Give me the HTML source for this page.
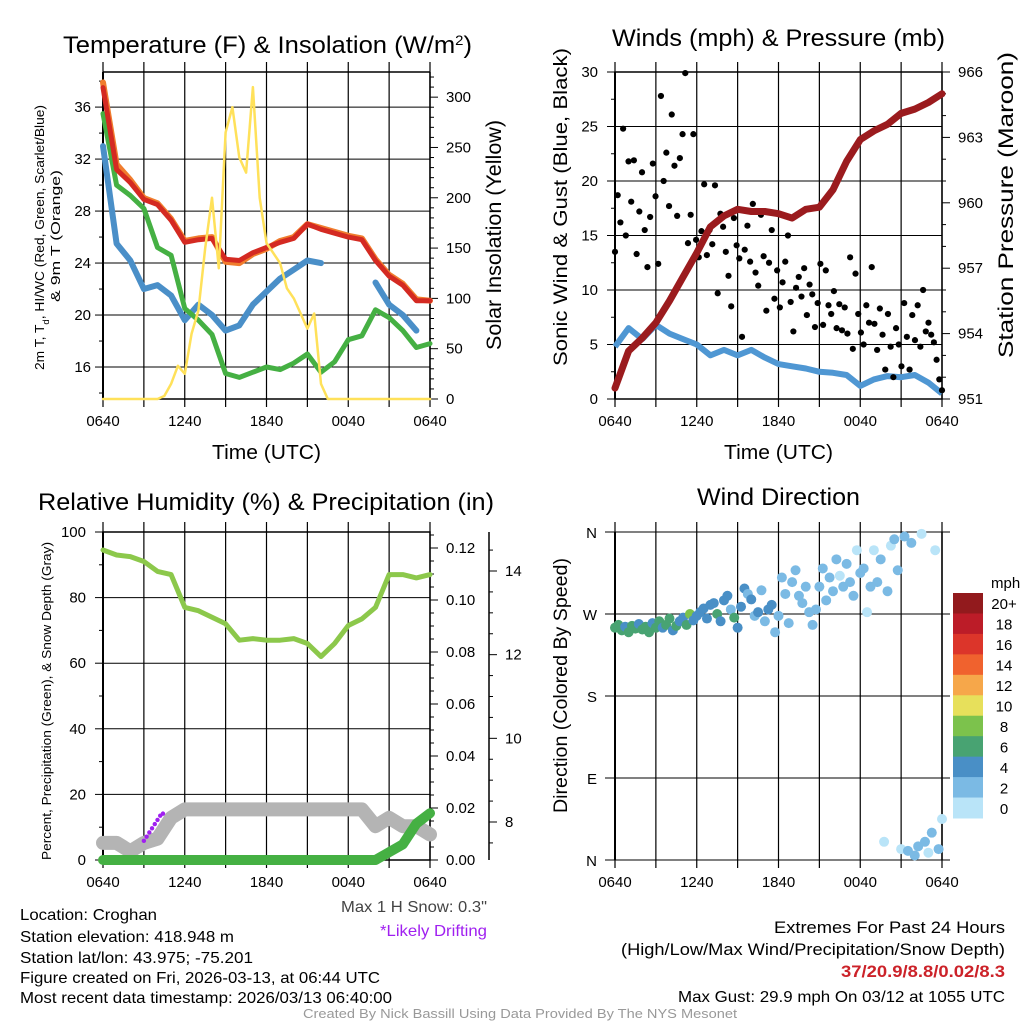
<!DOCTYPE html>
<html><head><meta charset="utf-8">
<style>
html,body{margin:0;padding:0;background:#fff;}
svg{display:block;}
text{font-family:"Liberation Sans Narrow","Liberation Sans",sans-serif;fill:#000;}
</style></head>
<body>
<svg id="fig" xmlns="http://www.w3.org/2000/svg" width="1024" height="1024" viewBox="0 0 1024 1024">
<rect width="1024" height="1024" fill="#fff"/>
<g id="static">
<text x="63" y="53" font-size="24" textLength="409" lengthAdjust="spacingAndGlyphs">Temperature (F) &amp; Insolation (W/m<tspan baseline-shift="super" font-size="14">2</tspan>)</text>
<text x="612" y="46" font-size="24" textLength="333" lengthAdjust="spacingAndGlyphs">Winds (mph) &amp; Pressure (mb)</text>
<text x="38" y="510" font-size="24" textLength="456" lengthAdjust="spacingAndGlyphs">Relative Humidity (%) &amp; Precipitation (in)</text>
<text x="697" y="505" font-size="24" textLength="163" lengthAdjust="spacingAndGlyphs">Wind Direction</text>
<text x="212" y="459" font-size="20" textLength="109" lengthAdjust="spacingAndGlyphs">Time (UTC)</text>
<text x="724" y="459" font-size="20" textLength="109" lengthAdjust="spacingAndGlyphs">Time (UTC)</text>
<text transform="translate(44,370) rotate(-90)" font-size="13" textLength="265" lengthAdjust="spacingAndGlyphs">2m T, T<tspan baseline-shift="sub" font-size="9">d</tspan>, HI/WC (Red, Green, Scarlet/Blue)</text>
<text transform="translate(60,302) rotate(-90)" font-size="13" textLength="132" lengthAdjust="spacingAndGlyphs">&amp; 9m T (Orange)</text>
<text transform="translate(501,350) rotate(-90)" font-size="21" textLength="230" lengthAdjust="spacingAndGlyphs">Solar Insolation (Yellow)</text>
<text transform="translate(567,366) rotate(-90)" font-size="19" textLength="318" lengthAdjust="spacingAndGlyphs">Sonic Wind &amp; Gust (Blue, Black)</text>
<text transform="translate(1013,358) rotate(-90)" font-size="21" textLength="306" lengthAdjust="spacingAndGlyphs">Station Pressure (Maroon)</text>
<text transform="translate(51,860) rotate(-90)" font-size="13" textLength="318" lengthAdjust="spacingAndGlyphs">Percent, Precipitation (Green), &amp; Snow Depth (Gray)</text>
<text transform="translate(567,813) rotate(-90)" font-size="19" textLength="255" lengthAdjust="spacingAndGlyphs">Direction (Colored By Speed)</text>
<text x="991" y="588" font-size="15">mph</text>

<text x="20" y="920" font-size="16" textLength="137" lengthAdjust="spacingAndGlyphs">Location: Croghan</text>
<text x="20" y="942" font-size="16" textLength="214" lengthAdjust="spacingAndGlyphs">Station elevation: 418.948 m</text>
<text x="20" y="963" font-size="16" textLength="233" lengthAdjust="spacingAndGlyphs">Station lat/lon: 43.975; -75.201</text>
<text x="20" y="983" font-size="16" textLength="360" lengthAdjust="spacingAndGlyphs">Figure created on Fri, 2026-03-13, at 06:44 UTC</text>
<text x="20" y="1003" font-size="16" textLength="372" lengthAdjust="spacingAndGlyphs">Most recent data timestamp: 2026/03/13 06:40:00</text>
<text x="341" y="912" font-size="16" style="fill:#444" textLength="146" lengthAdjust="spacingAndGlyphs">Max 1 H Snow: 0.3"</text>
<text x="380" y="936" font-size="16" style="fill:#a020f0" textLength="107" lengthAdjust="spacingAndGlyphs">*Likely Drifting</text>
<text x="774" y="933" font-size="17" textLength="231" lengthAdjust="spacingAndGlyphs">Extremes For Past 24 Hours</text>
<text x="621" y="955" font-size="17" textLength="384" lengthAdjust="spacingAndGlyphs">(High/Low/Max Wind/Precipitation/Snow Depth)</text>
<text x="841" y="977" font-size="17" font-weight="bold" style="fill:#cc2229" textLength="164" lengthAdjust="spacingAndGlyphs">37/20.9/8.8/0.02/8.3</text>
<text x="678" y="1002" font-size="16" textLength="327" lengthAdjust="spacingAndGlyphs">Max Gust: 29.9 mph On 03/12 at 1055 UTC</text>
<text x="303" y="1018" font-size="13" style="fill:#999" textLength="434" lengthAdjust="spacingAndGlyphs">Created By Nick Bassill Using Data Provided By The NYS Mesonet</text>
</g>
<g id="plots"></g>
</svg>
<script>
// ---------- data (hours since 0640 UTC) ----------
const timeLabels = ["0640","1240","1840","0040","0640"];
const tempRed    = [37.5,31.2,30.2,28.9,28.5,27.3,25.6,25.8,25.9,24.3,24.2,24.8,25.2,25.6,25.9,27.0,26.6,26.3,26.0,25.8,24.2,23.0,22.3,21.1,21.1];
const temp9m     = [37.9,31.6,30.4,29.0,28.6,27.4,25.7,25.9,26.0,24.1,24.0,24.7,25.1,25.7,26.0,27.0,26.7,26.4,26.1,25.9,24.3,23.1,22.4,21.2,21.1];
const dewGreen   = [35.5,30.0,29.2,28.2,25.2,24.6,20.5,19.6,18.5,15.5,15.2,15.6,16.0,15.8,16.3,17.0,15.6,16.4,18.1,18.4,20.4,19.8,18.8,17.5,17.8];
const windChill  = [33.0,25.5,24.2,22.0,22.3,21.5,19.6,20.8,20.0,18.8,19.2,20.8,21.8,22.8,23.5,24.2,24.0,null,null,null,22.5,20.8,20.0,18.8,null];
const solar      = [0,0,0,0,0,0,0,0,0,3,15,33,25,65,88,150,200,130,265,290,240,225,310,200,155,145,135,110,100,85,70,85,15,0,0,0,0,0,0,0,0,0,0,0,0,0,0,0,0];
const windSpeed  = [4.8,6.5,5.5,6.8,6.0,5.5,5.0,4.0,4.5,4.0,4.5,3.8,3.2,3.0,2.8,2.5,2.4,2.2,1.2,1.8,2.1,2.0,2.2,1.5,0.5];
const pressure   = [951.5,953.2,953.8,954.5,955.5,956.6,957.7,958.9,959.4,959.7,959.6,959.6,959.5,959.3,959.7,959.8,960.6,961.9,962.9,963.3,963.6,964.1,964.3,964.6,965.0];
const gusts = [13.5,18.7,16.2,24.8,15.0,21.8,18.1,21.9,13.3,17.2,20.8,
 15.5,12.1,16.7,21.6,18.6,12.4,27.8,20.0,22.6,17.7,
 26.1,21.4,16.8,22.1,24.3,29.9,14.3,16.9,24.3,14.6,
 13.0,15.4,19.7,13.2,15.5,14.2,19.6,9.7,17.0,15.8,
 13.5,11.3,8.5,16.6,14.1,12.9,5.7,13.7,15.9,12.6,
 17.9,11.6,10.4,16.9,13.1,8.1,12.5,15.5,9.2,11.8,
 8.4,10.7,12.6,15.0,8.9,6.2,10.2,11.2,9.4,12.0,
 7.7,10.5,9.6,6.6,8.8,12.4,6.8,11.8,8.6,7.8,
 9.9,6.5,8.7,6.3,8.4,6.0,13.0,4.6,11.5,7.8,
 6.1,5.0,8.6,7.0,12.1,6.9,4.5,8.3,5.9,2.7,
 7.8,4.8,2.0,6.5,5.0,3.0,8.8,5.7,2.7,7.7,
 5.4,8.6,4.8,10.0,6.2,7.0,5.9,5.2,3.6,1.8,0.8];
const relHum     = [94.5,93,92.5,91,88,87,77,76,74,72,67,67.5,67,67,67.5,66,62,66,71.5,73.5,77,87,87,86,87];
const snowDepth  = [7.5,7.5,7.3,7.5,7.6,8.1,8.3,8.3,8.3,8.3,8.3,8.3,8.3,8.3,8.3,8.3,8.3,8.3,8.3,8.3,7.9,8.1,7.9,7.9,7.7];
const driftTimes = [3.0,3.2,3.4,3.6,3.8,4.0,4.2,4.4];
const driftDepth = [7.55,7.65,7.75,7.85,7.95,8.05,8.15,8.2];
const precip     = [0,0,0,0,0,0,0,0,0,0,0,0,0,0,0,0,0,0,0,0,0,0.003,0.006,0.014,0.018];
const windDir = [255,258,252,256,250,257,254,259,253,256,250,260,255,
 262,255,258,265,252,257,262,266,258,270,263,268,
 272,276,265,280,282,270,262,285,290,275,266,255,
 278,298,292,286,268,272,296,262,275,280,250,268,
 310,292,260,305,318,290,282,300,272,258,275,300,
 320,285,310,295,330,312,300,325,305,290,340,315,
 320,272,300,340,305,330,20,295,345,352,318,12,
 355,10,348,5,15,358,20,8,30,340,12,45];
const dirSpeed = [6.5,7,6.2,5.8,6.8,7.2,6.1,5.5,6.6,7.4,6.3,5.1,6.8,
 6.2,5.4,7.1,6.5,4.6,6.8,5.9,4.5,6.1,8.2,5.6,4.8,
 4.8,5.2,4.3,4.6,4.1,6.2,4.5,4.9,4.2,3.8,6.4,4.4,
 4.5,4.2,3.6,4.4,3.9,4.7,3.5,3.3,4.6,4.2,3.1,3.8,
 3.4,2.8,3.2,3.6,2.6,3.1,2.9,3.3,2.7,2.4,3.0,2.8,
 2.5,3.1,2.6,2.3,2.7,1.8,2.6,2.2,3.0,2.4,1.6,2.1,
 2.4,1.7,2.2,1.5,2.3,2.6,1.2,2.1,1.8,2.4,2.0,1.4,
 2.1,2.5,2.3,2.6,2.2,1.9,2.4,1.6,2.0,1.2,2.3,1.0];
const cbLabels = ["20+","18","16","14","12","10","8","6","4","2","0"];
const cbColors = ["#921a1d","#bc1c28","#dc352a","#f0622e","#f6a74a","#e7e05b","#7cc24c","#48a372","#498fc6","#7bbae4","#b9e4f8"];
const dirLabels = ["N","E","S","W","N"];

// ---------- helpers ----------
const NS="http://www.w3.org/2000/svg";
const root=document.getElementById('plots');
function mk(tag,attrs,parent){const e=document.createElementNS(NS,tag);for(const k in attrs)e.setAttribute(k,attrs[k]);(parent||root).appendChild(e);return e;}
function lin(d0,d1,r0,r1){return v=>r0+(v-d0)/(d1-d0)*(r1-r0);}
function series(arr,span){return arr.map((v,i)=>[i*span/(arr.length-1),v]);}
function pathD(pts,xf,yf){let d="",pen=false;pts.forEach(p=>{if(p[1]===null){pen=false;return;}d+=(pen?"L":"M")+xf(p[0]).toFixed(1)+","+yf(p[1]).toFixed(1);pen=true;});return d;}
function txt(x,y,s,anchor,size,parent){const t=mk('text',{x:x,y:y,'text-anchor':anchor,'font-size':size||15},parent);t.textContent=s;return t;}

function xGrid(g,x0,x1,y0,y1,labels){
  const xs=lin(0,24,x0,x1);
  for(let h=0;h<=24;h+=3){
    const l=mk('line',{x1:xs(h),x2:xs(h),y1:y0-10,y2:y1+8,stroke:'#000','stroke-width':1.2},g);
    
    
  }
  labels.forEach((s,i)=>{const t=txt(xs(i*6),y1+27,s,'middle',15,g);
    
    });
  return xs;
}
function yAxis(g,x,dir,ys,min,max,major,minor,fmt,drawGridX1,labelOff){
  for(let v=min;v<=max+1e-9;v+=minor){
    const isMaj=Math.abs(v/major-Math.round(v/major))<1e-6;
    const y=ys(v);
    mk('line',{x1:x,x2:x+dir*(isMaj?8:4),y1:y,y2:y,stroke:'#000','stroke-width':1},g);
    if(isMaj){
      if(drawGridX1!==null) mk('line',{x1:x,x2:drawGridX1,y1:y,y2:y,stroke:'#000','stroke-width':1},g);
      const t=txt(x+dir*(labelOff||12),y+5,fmt(v),dir<0?'end':'start',15,g);
      
      
    }
  }
}

// ---------- Panel 1: temperature ----------
(function(){
  const g=mk('g',{});
  
  
  const x0=103,x1=430,y0=72,y1=399;
  const xs=xGrid(g,x0,x1,y0,y1,timeLabels);
  const yt=lin(13.54,38.7,y1,y0);
  const yr=lin(0,325,y1,y0);
  yAxis(g,x0,-1,yt,14,38,4,2,v=>String(v),x1,12);
  for(let v=0;v<=320;v+=10){const maj=v%50===0;mk('line',{x1:x1,x2:x1+(maj?8:4),y1:yr(v),y2:yr(v),stroke:'#000'},g);
    if(maj){const t=txt(x1+16,yr(v)+5,String(v),'start',15,g);}}
  mk('line',{x1:x0,x2:x1,y1:y0,y2:y0,stroke:'#000','stroke-width':1.5},g);
  mk('line',{x1:x0,x2:x1,y1:y1,y2:y1,stroke:'#000','stroke-width':1.5},g);
  mk('line',{x1:x0,x2:x0,y1:y0,y2:y1,stroke:'#000','stroke-width':2},g);
  mk('line',{x1:x1,x2:x1,y1:y0,y2:y1,stroke:'#000','stroke-width':1.5},g);
  const defs=[[windChill,'#4a8fc8',6,'wind-chill-line',yt],[dewGreen,'#45b043',5,'dewpoint-line',yt],[temp9m,'#f07d2e',6,'temp-9m-line',yt],[tempRed,'#d42a22',5,'temp-2m-line',yt],[solar,'#ffe15a',2.5,'solar-line',yr]];
  defs.forEach(d=>{const p=mk('path',{d:pathD(series(d[0],24),xs,d[4]),fill:'none',stroke:d[1],'stroke-width':d[2],'stroke-linejoin':'round','stroke-linecap':'round'},g);
    
    });
})();

// ---------- Panel 2: winds ----------
(function(){
  const g=mk('g',{});
  
  
  const x0=615,x1=942,y0=72,y1=399;
  const xs=xGrid(g,x0,x1,y0,y1,timeLabels);
  const yw=lin(0,30,y1,y0);
  const yp=lin(951,966,y1,y0);
  yAxis(g,x0,-1,yw,0,30,5,2.5,v=>String(v),x1,17);
  for(let v=951;v<=966;v+=1){const maj=(v-951)%3===0;mk('line',{x1:x1,x2:x1+(maj?8:4),y1:yp(v),y2:yp(v),stroke:'#000'},g);
    if(maj){const t=txt(x1+16,yp(v)+5,String(v),'start',15,g);}}
  mk('rect',{x:x0,y:y0,width:x1-x0,height:y1-y0,fill:'none',stroke:'#000','stroke-width':1.5},g);
  mk('line',{x1:x0,x2:x0,y1:y0,y2:y1,stroke:'#000','stroke-width':2},g);
  const w=mk('path',{d:pathD(series(windSpeed,24),xs,yw),fill:'none',stroke:'#4f97d3','stroke-width':6,'stroke-linejoin':'round'},g);
  
  
  series(gusts,24).forEach(p=>{const c=mk('circle',{cx:xs(p[0]),cy:yw(p[1]),r:3.1,fill:'#000'},g);
    
    });
  const pr=mk('path',{d:pathD(series(pressure,24),xs,yp),fill:'none',stroke:'#9b1b1e','stroke-width':7,'stroke-linejoin':'round','stroke-linecap':'round'},g);
  
  
})();

// ---------- Panel 3: RH / precip ----------
(function(){
  const g=mk('g',{});
  
  
  const x0=103,x1=430,y0=532,y1=860;
  const xs=xGrid(g,x0,x1,y0,y1,timeLabels);
  const yh=lin(0,100,y1,y0);
  const yq=lin(0,0.12,y1,548);
  const ysn=lin(8,14,822,571);
  yAxis(g,x0,-1,yh,0,100,20,10,v=>String(v),x1,17);
  for(let i=0;i<=25;i++){const v=i*0.005;const maj=i%4===0;mk('line',{x1:x1,x2:x1+(maj?8:4),y1:yq(v),y2:yq(v),stroke:'#000'},g);
    if(maj){const t=txt(x1+16,yq(v)+5,v.toFixed(2),'start',15,g);}}
  const ax=489;
  mk('line',{x1:ax,x2:ax,y1:y0,y2:y1,stroke:'#000','stroke-width':1.5},g);
  for(let v=7.5;v<=14.9;v+=0.5){const maj=Math.abs(v%2)<1e-6;mk('line',{x1:ax,x2:ax+(maj?8:4),y1:ysn(v),y2:ysn(v),stroke:'#000'},g);
    if(maj){const t=txt(ax+16,ysn(v)+5,String(v),'start',15,g);}}
  mk('rect',{x:x0,y:y0,width:x1-x0,height:y1-y0,fill:'none',stroke:'#000','stroke-width':1.5},g);
  mk('line',{x1:x0,x2:x0,y1:y0,y2:y1,stroke:'#000','stroke-width':2},g);
  const s=mk('path',{d:pathD(series(snowDepth,24),xs,ysn),fill:'none',stroke:'#b4b4b4','stroke-width':14,'stroke-linejoin':'round','stroke-linecap':'round'},g);
  
  
  driftTimes.forEach((t,i)=>{const c=mk('circle',{cx:xs(t),cy:ysn(driftDepth[i]),r:2.2,fill:'#a020f0'},g);
    
    });
  const h=mk('path',{d:pathD(series(relHum,24),xs,yh),fill:'none',stroke:'#8cc84b','stroke-width':5,'stroke-linejoin':'round','stroke-linecap':'round'},g);
  
  
  const q=mk('path',{d:pathD(series(precip,24),xs,yq),fill:'none',stroke:'#45b043','stroke-width':10,'stroke-linejoin':'round','stroke-linecap':'round'},g);
  
  
})();

// ---------- Panel 4: wind direction ----------
(function(){
  const g=mk('g',{});
  
  
  const x0=615,x1=942,y0=532,y1=860;
  const xs=xGrid(g,x0,x1,y0,y1,timeLabels);
  const yd=lin(0,360,y1,y0);
  dirLabels.forEach((s,i)=>{const y=yd(i*90);
    mk('line',{x1:x0-10,x2:950,y1:y,y2:y,stroke:'#000','stroke-width':1},g);
    const t=txt(x0-18,y+6,s,'end',15,g);
    
    });
  mk('line',{x1:x0,x2:x0,y1:y0,y2:y1,stroke:'#000','stroke-width':2},g);
  mk('line',{x1:x1,x2:x1,y1:y0,y2:y1,stroke:'#000','stroke-width':1.5},g);
  function col(s){let b=Math.floor(s/2);if(b>10)b=10;return cbColors[10-b];}
  series(windDir,24).forEach((p,i)=>{const c=mk('circle',{cx:xs(p[0]),cy:yd(p[1]),r:5,fill:col(dirSpeed[i])},g);
    
    });
  const cx=953,cw=30,ct=593,ch=225/11;
  cbColors.forEach((c,i)=>{const r=mk('rect',{x:cx,y:ct+i*ch,width:cw,height:ch+0.5,fill:c},g);
    
    
    const t=txt(1004,ct+i*ch+ch/2+6,cbLabels[i],'middle',15,g);
    
    });
})();
</script>
</body></html>
